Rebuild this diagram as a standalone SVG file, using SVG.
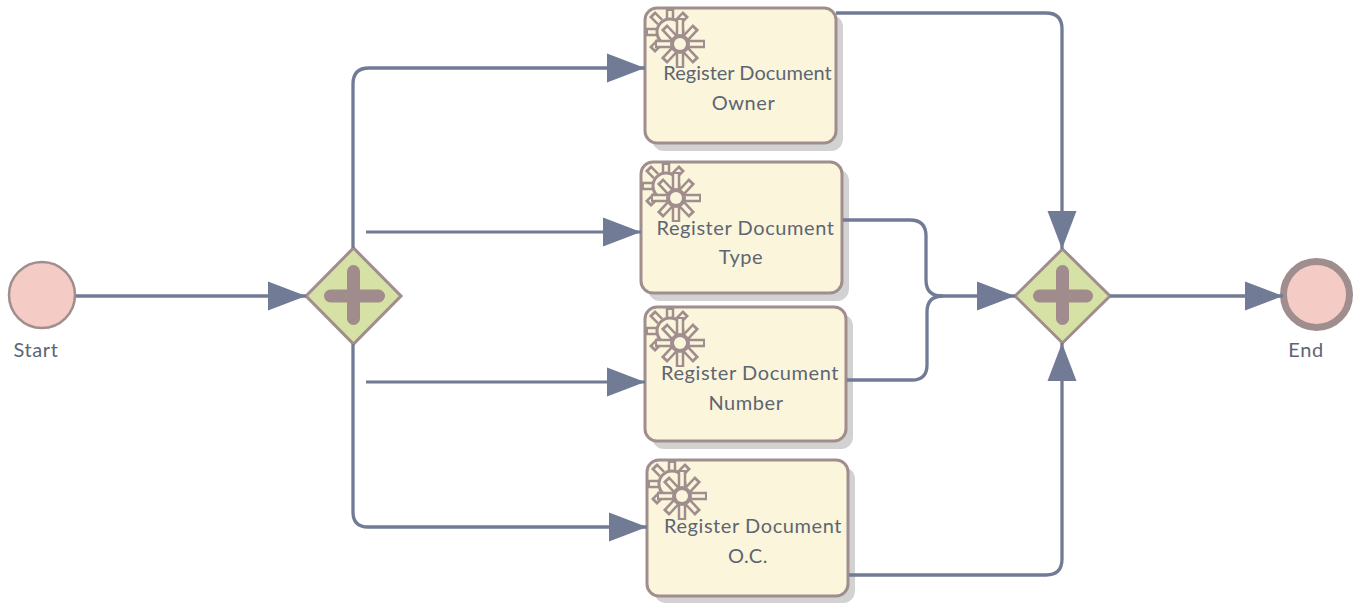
<svg xmlns="http://www.w3.org/2000/svg" xmlns:xlink="http://www.w3.org/1999/xlink" width="1357" height="615" viewBox="0 0 1357 615">
<style>
text{font-family:"Lato","Carlito","Open Sans",sans-serif;font-size:20px;fill:#5d6572;text-anchor:middle;letter-spacing:.58px}
.task{fill:#fbf5dc;stroke:#a08d8d;stroke-width:3}
.shadow{fill:#d2d2d2}
.event{fill:#f5cbc5;stroke:#a08d8d}
.gw{fill:#d5e1a5;stroke:#a08d8d;stroke-width:3}
.plus{stroke:#a08c8c;stroke-width:13;stroke-linecap:round;fill:none}
.conn{fill:none;stroke:#717b96;stroke-width:3.3}
.g1{stroke:#a08d8d;stroke-width:8.500;fill:none}
.g2{stroke:#fbf5dc;stroke-width:3.500;fill:none}
.gc{fill:#fbf5dc;stroke:#a08d8d;stroke-width:3}
</style>
<defs>
<marker id="arrow" markerUnits="userSpaceOnUse" markerWidth="40" markerHeight="32" viewBox="0 0 40 32" refX="38" refY="16" orient="auto"><path d="M0 1.500L38 16L0 30.500Z" fill="#717b96"/></marker>
<g id="gear">
<path class="g1" d="M25 1V14M1 24H14M7 6L15 14M41 6L33 14M7 42L15 34"/>
<path class="g2" d="M25 3V16M3 24H16M9 8L17 16M39 8L31 16M9 40L17 32"/>
<circle class="gc" cx="25" cy="24" r="13"/>
<path class="g1" d="M35 10V60M10 36H60M19 19L51 53M51 19L19 53"/>
<path class="g2" d="M35 12V58M12 36H58M21 21L49 51M49 21L21 51"/>
<circle fill="#a08d8d" cx="35" cy="36" r="10"/>
<circle fill="#fbf5dc" cx="35" cy="36" r="6"/>
</g>
</defs>
<g id="start"><circle class="event" stroke-width="2.500" cx="42" cy="295" r="33"/><text x="36" y="357">Start</text></g>
<g id="gateway1"><path class="gw" d="M306 296L353.500 248L401 296L353.500 344Z"/><path class="plus" d="M353.500 271.500V318.500M330.500 296H378.500"/></g>
<g id="task1"><rect class="shadow" x="652" y="15" width="191" height="136" rx="12"/><rect class="task" x="645" y="8" width="191" height="135" rx="12"/><use xlink:href="#gear" href="#gear" x="645" y="8"/><text x="747.500" y="80" style="letter-spacing:0">Register Document</text><text x="743.500" y="110">Owner</text></g>
<g id="task2"><rect class="shadow" x="648" y="169" width="201" height="132" rx="12"/><rect class="task" x="641" y="162" width="201" height="131" rx="12"/><use xlink:href="#gear" href="#gear" x="641" y="162"/><text x="745.500" y="235">Register Document</text><text x="741" y="264">Type</text></g>
<g id="task3"><rect class="shadow" x="652" y="314" width="201" height="135" rx="12"/><rect class="task" x="645" y="307" width="201" height="134" rx="12"/><use xlink:href="#gear" href="#gear" x="645" y="307"/><text x="750" y="380">Register Document</text><text x="746" y="410">Number</text></g>
<g id="task4"><rect class="shadow" x="654" y="467" width="201" height="136" rx="12"/><rect class="task" x="647" y="460" width="201" height="136" rx="12"/><use xlink:href="#gear" href="#gear" x="647" y="460"/><text x="753" y="533">Register Document</text><text x="748" y="563">O.C.</text></g>
<g id="gateway2"><path class="gw" d="M1015 296L1062.500 249L1110 296L1062.500 343Z"/><path class="plus" d="M1062.500 271.500V318.500M1039.500 296H1086.500"/></g>
<g id="end"><circle class="event" stroke-width="7" cx="1316.500" cy="294.500" r="33"/><text x="1306" y="357">End</text></g>
<g id="connectors">
<path class="conn" marker-end="url(#arrow)" d="M76 296H306"/>
<path class="conn" marker-end="url(#arrow)" d="M353 248V84Q353 68 369 68H645"/>
<path class="conn" style="stroke-width:3" marker-end="url(#arrow)" d="M366 232H641"/>
<path class="conn" style="stroke-width:3" marker-end="url(#arrow)" d="M366 382H645"/>
<path class="conn" marker-end="url(#arrow)" d="M353 344V512Q353 527 368 527H647"/>
<path class="conn" marker-end="url(#arrow)" d="M836 13H1046Q1062 13 1062 29V249"/>
<path class="conn" marker-end="url(#arrow)" d="M843 220H910Q926 220 926 236V280Q926 296 942 296H1015"/>
<path class="conn" d="M847 380H912Q927 380 927 365V312Q927 296 943 296"/>
<path class="conn" marker-end="url(#arrow)" d="M849 575H1046Q1062 575 1062 559V343"/>
<path class="conn" marker-end="url(#arrow)" d="M1110 296H1283"/>
</g>
</svg>
